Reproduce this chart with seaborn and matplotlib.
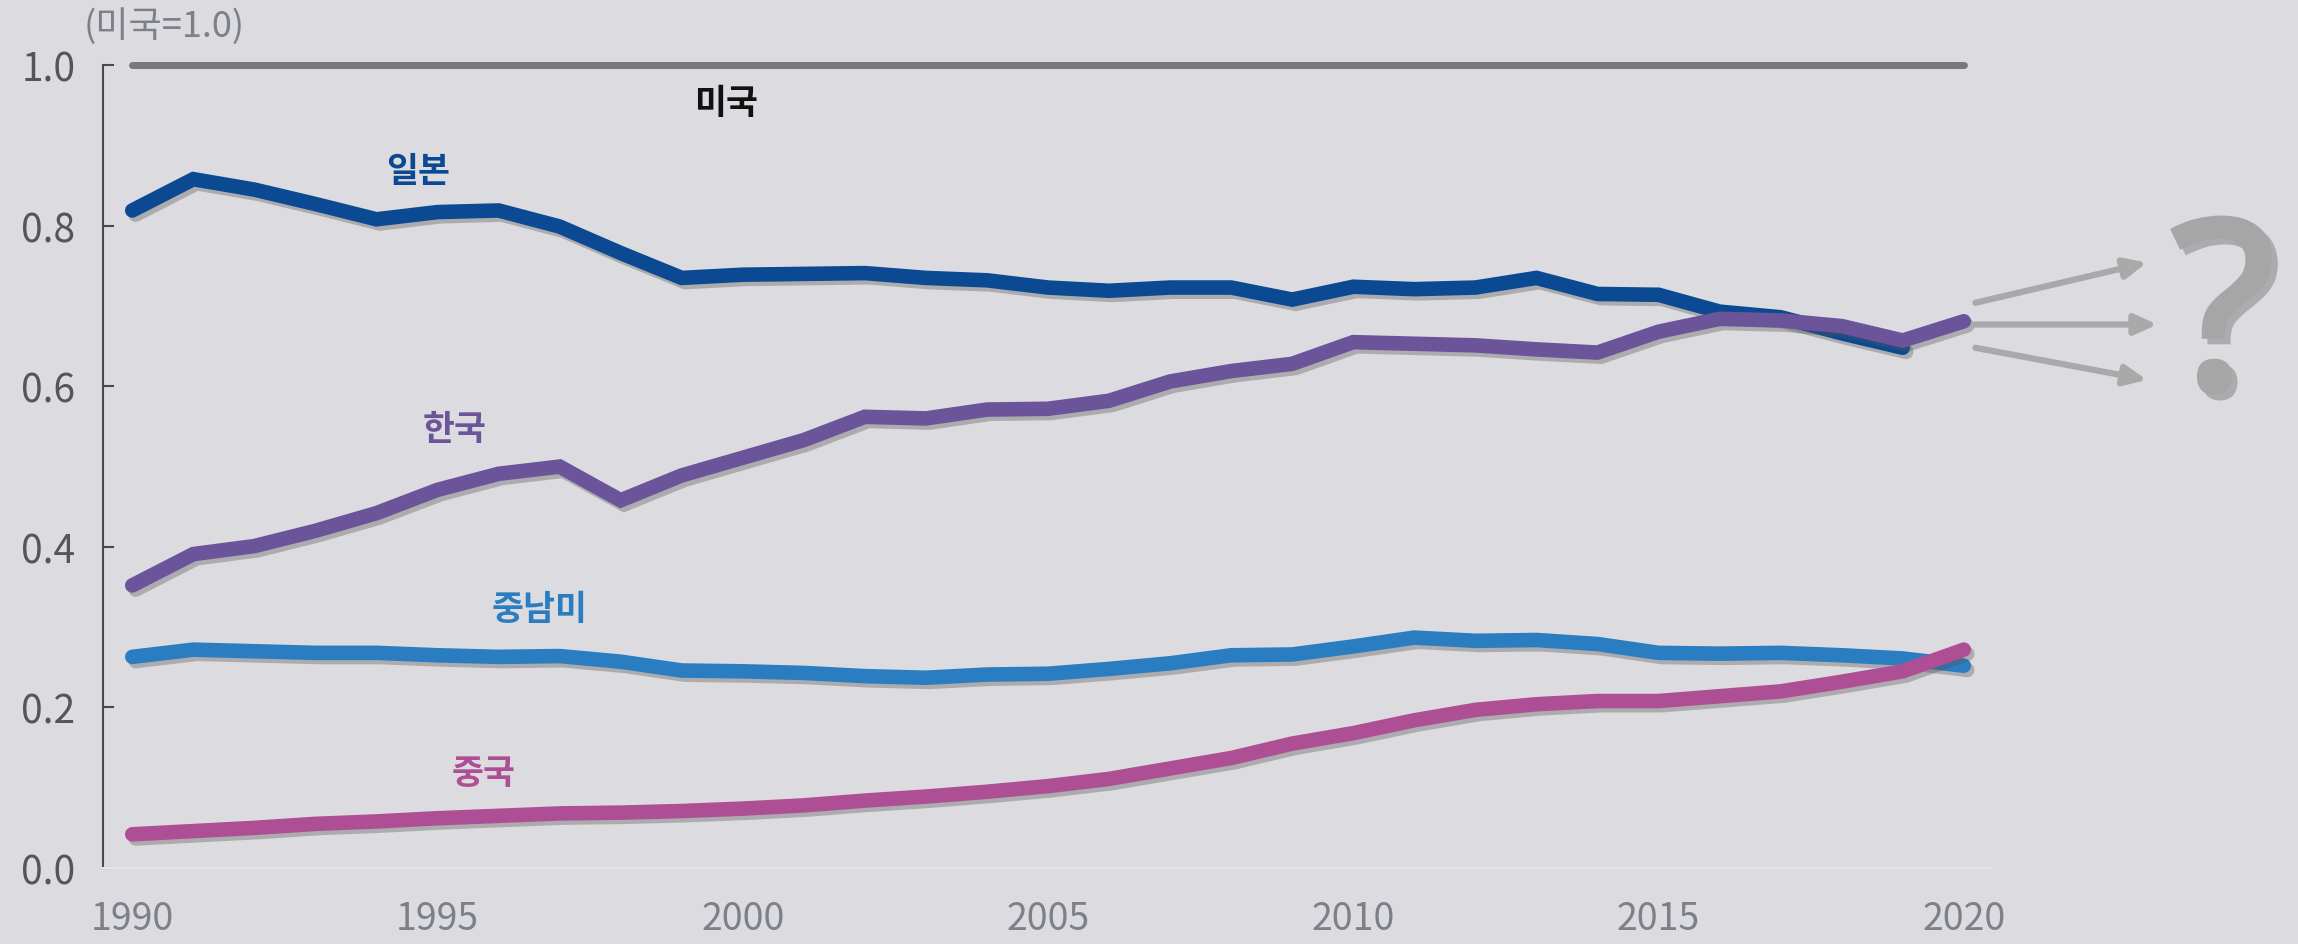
import numpy as np
import pandas as pd
import matplotlib
matplotlib.use("Agg")
import matplotlib.pyplot as plt
import matplotlib.patheffects as pe
import seaborn as sns

years = list(range(1990, 2021))
japan = [0.819, 0.858, 0.845, 0.827, 0.808, 0.817, 0.819, 0.799, 0.766, 0.735,
         0.739, 0.740, 0.741, 0.735, 0.732, 0.723, 0.719, 0.723, 0.723, 0.708,
         0.724, 0.721, 0.723, 0.735, 0.715, 0.714, 0.693, 0.686, 0.666, 0.648, np.nan]
korea = [0.352, 0.391, 0.401, 0.420, 0.442, 0.471, 0.491, 0.500, 0.458, 0.489,
         0.511, 0.533, 0.562, 0.560, 0.571, 0.572, 0.582, 0.606, 0.619, 0.628,
         0.655, 0.653, 0.651, 0.646, 0.642, 0.668, 0.684, 0.682, 0.675, 0.657, 0.681]
latam = [0.263, 0.272, 0.270, 0.268, 0.268, 0.265, 0.263, 0.264, 0.257, 0.246,
         0.245, 0.243, 0.239, 0.237, 0.241, 0.242, 0.248, 0.255, 0.265, 0.266,
         0.276, 0.287, 0.283, 0.284, 0.279, 0.268, 0.267, 0.268, 0.265, 0.261, 0.252]
china = [0.042, 0.046, 0.050, 0.055, 0.058, 0.062, 0.065, 0.068, 0.069, 0.071,
         0.074, 0.078, 0.084, 0.089, 0.095, 0.102, 0.111, 0.124, 0.137, 0.155,
         0.168, 0.184, 0.197, 0.204, 0.208, 0.208, 0.214, 0.220, 0.232, 0.245, 0.272]
usa = [1.0] * len(years)

series_names = ["미국", "일본", "한국", "중남미", "중국"]
colors = {"미국": "#75787f", "일본": "#0b4a92", "한국": "#6b5499",
          "중남미": "#2a7dc0", "중국": "#ae4f96"}
yticks = [0.0, 0.2, 0.4, 0.6, 0.8, 1.0]
xticks = [1990, 1995, 2000, 2005, 2010, 2015, 2020]

df = pd.DataFrame({"year": years * 5,
                   "value": usa + japan + korea + latam + china,
                   "country": sum([[n] * len(years) for n in series_names], [])}).dropna()

sns.set_theme(style="white")
bg = "#dcdce0"
plt.rcParams["font.family"] = ["Liberation Sans Narrow", "Noto Sans CJK KR", "DejaVu Sans"]

fig = plt.figure(figsize=(22.98, 9.45), dpi=100, facecolor=bg)
ax = fig.add_axes([0.0448, 0.0804, 0.8212, 0.8496])
ax.set_facecolor(bg)

shadow = [pe.SimpleLineShadow(offset=(2.5, -3), shadow_color="#555555", alpha=0.35),
          pe.Normal()]

for name in series_names:
    sub = df[df["country"] == name]
    lw = 5 if name == "미국" else 10.5
    sns.lineplot(data=sub, x="year", y="value", ax=ax, color=colors[name],
                 linewidth=lw, solid_capstyle="round", solid_joinstyle="miter",
                 clip_on=False, legend=False,
                 path_effects=None if name == "미국" else shadow)

ax.set_xlim(1989.52, 2020.43)
ax.set_ylim(0, 1.0)
ax.set_xticks(xticks)
ax.set_xticklabels([str(x) for x in xticks])
ax.set_yticks(yticks)
ax.set_yticklabels([f"{v:.1f}" for v in yticks])
ax.set_xlabel("")
ax.set_ylabel("")

for s in ["top", "right"]:
    ax.spines[s].set_visible(False)
ax.spines["left"].set_color("#4a4a4a")
ax.spines["left"].set_linewidth(1.5)
ax.spines["bottom"].set_color("#e6e6e8")
ax.spines["bottom"].set_linewidth(1.5)

ax.tick_params(axis="y", direction="in", length=8, width=1.5, color="#4a4a4a",
               labelsize=28, labelcolor="#555555", pad=20, left=True)
ax.tick_params(axis="x", length=0, labelsize=27, labelcolor="#7b8089", pad=22, bottom=False)

fig.text(0.0715, 0.972, "(미국=1.0)", fontsize=26, color="#7b8089", ha="center", va="center")

lab_font = ["Noto Sans CJK KR", "DejaVu Sans"]
labels = [("미국", 1999.72, 0.954, "#111111"),
          ("일본", 1994.68, 0.869, colors["일본"]),
          ("한국", 1995.28, 0.547, colors["한국"]),
          ("중남미", 1996.67, 0.323, colors["중남미"]),
          ("중국", 1995.76, 0.119, colors["중국"])]
for txt, x, y, c in labels:
    ax.text(x, y, txt, fontsize=25, fontweight="semibold", color=c, ha="center",
            va="center", family=lab_font)

# arrows and question mark
arrow_color = "#a9a9a9"
for (x0, y0, x1, y1) in [(2020.19, 0.704, 2023.0, 0.754),
                         (2020.19, 0.677, 2023.17, 0.677),
                         (2020.19, 0.648, 2023.0, 0.608)]:
    ax.annotate("", xy=(x1, y1), xytext=(x0, y0), xycoords="data",
                annotation_clip=False,
                arrowprops=dict(arrowstyle="-|>,head_length=1.1,head_width=0.5",
                                color=arrow_color, lw=4.5, shrinkA=0, shrinkB=0))

ax.text(2024.25, 0.672, "?", fontsize=175, fontweight="semibold", color="#a6a6a6",
        ha="center", va="center", family=["Open Sans", "DejaVu Sans"], clip_on=False,
        path_effects=[pe.withSimplePatchShadow(offset=(4, -4), shadow_rgbFace="#666666",
                                               alpha=0.4)])

fig.savefig("out.png", dpi=100, facecolor=bg)
